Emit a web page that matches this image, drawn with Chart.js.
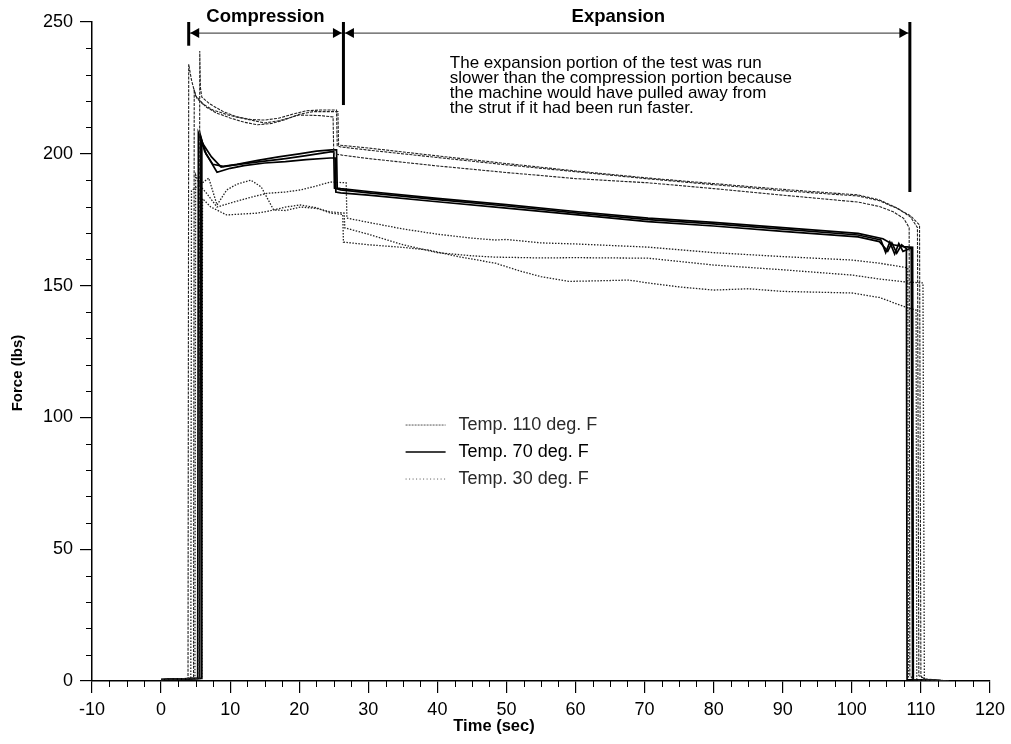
<!DOCTYPE html>
<html>
<head>
<meta charset="utf-8">
<script src="https://cdn.jsdelivr.net/npm/chart.js@4.4.0/dist/chart.umd.min.js"></script>
<style>
  html, body { margin: 0; padding: 0; background: #fff; }
</style>
</head>
<body>
<canvas id="myChart" width="1011" height="744"></canvas>
<script>
// time (sec) and force (lbs); 3 runs per temperature
var time110a = [0, 3.9, 4.0, 4.4, 5.0, 6.5, 8, 10, 12, 14, 16, 18, 20, 22, 24, 25.6, 25.7, 30, 40, 50, 60, 70.5, 80, 90, 100.9, 104, 106.6, 108.5, 109.5, 109.7, 110.6, 114];
var force110a = [0.5, 1, 234, 228, 222, 217.8, 215.5, 213.6, 212, 211, 211.5, 213, 215, 216, 216, 216, 203.3, 202.2, 199.2, 196.3, 193.5, 190.8, 188.7, 186.5, 184.4, 182.5, 179.4, 176, 172, 2, 0.8, 0];
var time110b = [0, 5.5, 5.6, 5.7, 5.9, 7, 9, 11, 13, 15, 17, 19, 21, 23, 25.4, 25.5, 26, 30, 40, 50, 60, 70.5, 80, 90, 100.9, 104, 106.6, 108.5, 109.8, 110.0, 110.3, 114];
var force110b = [0.5, 1, 239, 225, 221.5, 219, 216, 214, 213, 212.8, 213.5, 215, 216.3, 216.6, 216.6, 203, 202.6, 201.4, 198.6, 195.8, 193.2, 190.5, 188.3, 186, 184, 182.2, 179.2, 176.5, 173, 2, 0.6, 0];
var time110c = [0, 4.7, 4.8, 5.2, 6.0, 7.5, 10, 13, 15, 17, 20, 23, 24.9, 25.0, 26.2, 30, 40, 50, 60, 70.5, 80, 90, 100.9, 104, 106, 107.5, 108.3, 108.4, 109, 114];
var force110c = [0.5, 1, 224, 221, 219, 216.6, 214.5, 212.8, 211.7, 212.5, 214.7, 214.5, 214, 200, 199.5, 198.2, 195.4, 192.9, 190.6, 189, 186.8, 184.3, 181.7, 180, 178, 175.5, 172, 2, 0.5, 0];

var time70a = [0, 5.3, 5.4, 6.0, 7.3, 8.7, 10, 12, 15, 18, 21, 24.5, 25.0, 25.1, 26, 30, 40, 50, 60, 70.5, 80, 90, 100.9, 104.2, 104.9, 105.5, 106.2, 106.8, 107.4, 108.6, 108.8, 114];
var force70a = [0.5, 1, 208, 204, 198.8, 195, 195.5, 196.3, 197.2, 198.2, 199.3, 200.7, 200.7, 187, 186.3, 185.2, 182.6, 180.2, 177.6, 175, 173.4, 171.4, 169.2, 167.3, 162.5, 166.5, 162, 166, 163, 164.3, 0.5, 0];
var time70b = [0, 5.6, 5.7, 6.3, 8.1, 10, 12, 15, 18, 21, 24.5, 25.2, 25.3, 26, 30, 40, 50, 60, 70.5, 80, 90, 100.9, 104, 105.2, 105.8, 106.5, 107.2, 107.9, 108.0, 114];
var force70b = [0.5, 1, 207, 201, 193, 194.5, 195.5, 196.5, 197, 197.8, 198.4, 198.4, 185.5, 185.2, 184.3, 181.8, 179.4, 176.9, 174.3, 172.6, 170.6, 168.5, 166.7, 163, 166.2, 162.3, 165.5, 164, 0.5, 0];
var time70c = [0, 5.8, 5.9, 6.5, 7.5, 9, 11, 14, 17, 20, 22.5, 24.7, 25.4, 25.5, 26, 30, 40, 50, 60, 70.5, 80, 90, 100.9, 104.5, 106, 107.5, 108.8, 108.9, 114];
var force70c = [0.5, 1, 205, 200, 196, 195.2, 196, 197.5, 198.8, 200, 201, 201.5, 201.5, 187, 186.8, 185.7, 183.1, 180.7, 178.1, 175.6, 174, 172, 169.8, 167.8, 165.5, 164.8, 164.5, 0.5, 0];

var time30a = [0, 4.9, 5.0, 5.6, 6.6, 8.1, 10.5, 13, 15.3, 18, 20.2, 22.5, 24.5, 26.8, 26.9, 30, 35, 40, 45, 48.4, 50, 55, 60, 70.5, 80, 90, 100, 104, 108.1, 108.2, 114];
var force30a = [0.5, 1, 192, 188, 185, 179.8, 181.7, 183.5, 185, 185.5, 186.3, 187.8, 189.3, 189, 175.6, 174, 171.5, 169.5, 168, 167.3, 167.5, 166.2, 165.8, 164.6, 162.5, 161, 159.7, 158.5, 156.7, 0.5, 0];
var time30b = [0, 4.3, 4.4, 5.5, 6.9, 8.1, 9.5, 11, 13, 14.5, 16.3, 18, 20.2, 22.5, 24.5, 26.5, 26.6, 30, 35, 40, 45, 48.4, 55, 60, 70.5, 80, 90, 100, 104, 107.7, 110.3, 110.5, 114];
var force30b = [0.5, 1, 186, 188, 190.8, 180.6, 186.3, 188.5, 190, 187.4, 178.7, 178.5, 179.8, 179.3, 178, 177.5, 171.9, 169.5, 165.5, 162.5, 161.3, 160.8, 160.5, 160.6, 160.4, 157.8, 156, 154, 152.5, 151.4, 151, 0.5, 0];
var time30c = [0, 5.9, 6.0, 7.2, 9.5, 12, 14, 16, 18, 20.2, 22.5, 24.5, 26.3, 26.4, 30, 35, 38.7, 43, 48.4, 52, 55, 59, 63, 67.7, 70.5, 75, 80, 85, 90, 95, 100, 104, 107.7, 109.3, 109.4, 114];
var force30c = [0.5, 1, 183, 179.8, 176.8, 177.2, 177.5, 178.5, 179.8, 180.6, 179.5, 177.5, 177, 166.5, 165.5, 164.5, 163.5, 161, 158.5, 155.5, 153.4, 151.6, 151.8, 152.1, 151, 149.5, 148.3, 148.8, 147.8, 147.5, 147.2, 145.5, 141.9, 140.7, 0.5, 0];

var legendLabels = ['Temp. 110 deg. F', 'Temp. 70 deg. F', 'Temp. 30 deg. F'];
var phaseLabels = ['Compression', 'Expansion'];
var phaseTimes = [4.0, 26.4, 108.4];
var noteLines = [
  'The expansion portion of the test was run',
  'slower than the compression portion because',
  'the machine would have pulled away from',
  'the strut if it had been run faster.'
];

var FONT = '"Liberation Sans", Arial, sans-serif';
var styles = [
  { borderColor: '#222222', borderWidth: 1.1, borderDash: [3, 1.2] },
  { borderColor: '#000000', borderWidth: 1.7, borderDash: [] },
  { borderColor: '#222222', borderWidth: 1.3, borderDash: [1.5, 1.5] }
];

function makeSet(group, times, forces) {
  var data = times.map(function(t, i) { return { x: t, y: forces[i] }; });
  return Object.assign({ label: legendLabels[group], data: data, pointRadius: 0, tension: 0, fill: false }, styles[group]);
}

var datasets = [
  makeSet(0, time110a, force110a), makeSet(0, time110b, force110b), makeSet(0, time110c, force110c),
  makeSet(1, time70a, force70a), makeSet(1, time70b, force70b), makeSet(1, time70c, force70c),
  makeSet(2, time30a, force30a), makeSet(2, time30b, force30b), makeSet(2, time30c, force30c)
];

function arrowHead(ctx, tipX, y, dir) {
  ctx.beginPath();
  ctx.moveTo(tipX, y);
  ctx.lineTo(tipX - dir * 9, y - 5);
  ctx.lineTo(tipX - dir * 9, y + 5);
  ctx.closePath();
  ctx.fill();
}

var extras = {
  id: 'extras',
  afterDraw: function(chart) {
    var ctx = chart.ctx;
    var xs = chart.scales.x, ys = chart.scales.y;
    var area = chart.chartArea;
    ctx.save();

    // minor ticks
    ctx.strokeStyle = '#000';
    ctx.lineWidth = 1;
    ctx.beginPath();
    for (var v = -10; v <= 120; v += 2.5) {
      if (v % 10 === 0) continue;
      var px = Math.round(xs.getPixelForValue(v)) + 0.5;
      ctx.moveTo(px, area.bottom);
      ctx.lineTo(px, area.bottom + 6);
    }
    for (var w = 0; w <= 250; w += 10) {
      if (w % 50 === 0) continue;
      var py = Math.round(ys.getPixelForValue(w)) + 0.5;
      ctx.moveTo(area.left - 6, py);
      ctx.lineTo(area.left, py);
    }
    ctx.stroke();

    // phase markers
    var top = ys.getPixelForValue(250);
    var yArrow = ys.getPixelForValue(245.8);
    var barEnds = [241, 218.5, 185.5];
    var xp = phaseTimes.map(function(t) { return xs.getPixelForValue(t); });
    ctx.strokeStyle = '#555';
    ctx.lineWidth = 1.2;
    ctx.beginPath();
    ctx.moveTo(xp[0], yArrow);
    ctx.lineTo(xp[2], yArrow);
    ctx.stroke();
    ctx.strokeStyle = '#000';
    ctx.lineWidth = 3;
    for (var i = 0; i < 3; i++) {
      ctx.beginPath();
      ctx.moveTo(xp[i], top);
      ctx.lineTo(xp[i], ys.getPixelForValue(barEnds[i]));
      ctx.stroke();
    }
    ctx.fillStyle = '#000';
    arrowHead(ctx, xp[0] + 1.5, yArrow, -1);
    arrowHead(ctx, xp[1] - 1.5, yArrow, 1);
    arrowHead(ctx, xp[1] + 1.5, yArrow, -1);
    arrowHead(ctx, xp[2] - 1.5, yArrow, 1);

    ctx.font = 'bold 18.5px ' + FONT;
    ctx.textAlign = 'center';
    ctx.textBaseline = 'alphabetic';
    ctx.fillText(phaseLabels[0], xs.getPixelForValue(15.1), ys.getPixelForValue(250));
    ctx.fillText(phaseLabels[1], xs.getPixelForValue(66.2), ys.getPixelForValue(250));

    // note
    ctx.font = '17px ' + FONT;
    ctx.textAlign = 'left';
    var nx = xs.getPixelForValue(41.8);
    var ny = ys.getPixelForValue(232.6);
    noteLines.forEach(function(line, k) { ctx.fillText(line, nx, ny + k * 15); });

    // legend
    var lx = xs.getPixelForValue(35.4);
    var ly = ys.getPixelForValue(97.1);
    ctx.font = '18px ' + FONT;
    ctx.textBaseline = 'middle';
    for (var g = 0; g < 3; g++) {
      var yy = ly + g * 27;
      ctx.strokeStyle = g === 1 ? '#000' : '#555';
      ctx.lineWidth = g === 1 ? 1.5 : 1;
      ctx.setLineDash(g === 0 ? [2, 1] : (g === 2 ? [1, 2.5] : []));
      ctx.beginPath();
      ctx.moveTo(lx, yy);
      ctx.lineTo(lx + 40, yy);
      ctx.stroke();
      ctx.setLineDash([]);
      ctx.fillStyle = g === 1 ? '#000' : '#2a2a2a';
      ctx.fillText(legendLabels[g], lx + 53, yy);
    }

    // axis titles
    ctx.fillStyle = '#000';
    ctx.textAlign = 'center';
    ctx.font = 'bold 16.5px ' + FONT;
    ctx.fillText('Time (sec)', 494, 726);
    ctx.font = 'bold 15px ' + FONT;
    ctx.translate(18, 373);
    ctx.rotate(-Math.PI / 2);
    ctx.fillText('Force (lbs)', 0, 0);
    ctx.restore();
  }
};

var ctx = document.getElementById('myChart');
var myChart = new Chart(ctx, {
  type: 'line',
  data: { datasets: datasets },
  plugins: [extras],
  options: {
    responsive: false,
    animation: false,
    layout: { padding: { top: 22, right: 20, left: 0, bottom: 0 } },
    plugins: { legend: { display: false }, tooltip: { enabled: false } },
    scales: {
      x: {
        type: 'linear', min: -10, max: 120,
        afterFit: function(scale) { scale.height = 63; },
        ticks: { stepSize: 10, color: '#000', padding: 6, maxRotation: 0, autoSkip: false, font: { family: FONT, size: 18 } },
        grid: { display: true, drawOnChartArea: false, drawTicks: true, tickLength: 12, color: '#000', lineWidth: 1.2 },
        border: { display: true, color: '#000', width: 1.5 }
      },
      y: {
        type: 'linear', min: 0, max: 250,
        afterFit: function(scale) { scale.width = 92; },
        ticks: { stepSize: 50, color: '#000', padding: 7, font: { family: FONT, size: 18 } },
        grid: { display: true, drawOnChartArea: false, drawTicks: true, tickLength: 12, color: '#000', lineWidth: 1.2 },
        border: { display: true, color: '#000', width: 1.5 }
      }
    }
  }
});
</script>
</body>
</html>
